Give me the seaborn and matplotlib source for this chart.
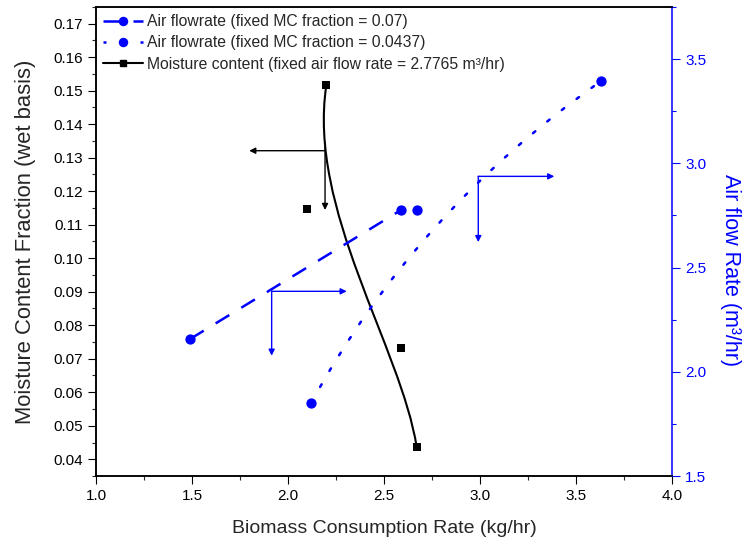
import numpy as np
import matplotlib
matplotlib.use('Agg')
import matplotlib.pyplot as plt
from matplotlib.path import Path
from matplotlib.patches import PathPatch
from matplotlib.lines import Line2D
from matplotlib.ticker import MultipleLocator, FormatStrFormatter
import seaborn as sns

sns.set_style('ticks')
plt.rcParams['font.family'] = ['Liberation Sans', 'DejaVu Sans']

BLUE = '#0000FF'

# moisture content at fixed air flow rate = 2.7765 m3/hr (B-spline control points)
mc_rate = [2.20, 2.10, 2.59, 2.67]
mc_frac = [0.1517, 0.1147, 0.0732, 0.0437]

# air flow rate at fixed MC fraction = 0.07
af07_rate = [1.49, 2.59]
af07_flow = [2.157, 2.7765]

# air flow rate at fixed MC fraction = 0.0437 (B-spline control points)
af0437_rate = [2.12, 2.67, 3.63]
af0437_flow = [1.85, 2.7765, 3.394]

legend_labels = ['Air flowrate (fixed MC fraction = 0.07)',
                 'Air flowrate (fixed MC fraction = 0.0437)',
                 'Moisture content (fixed air flow rate = 2.7765 m³/hr)']

fig = plt.figure(figsize=(7.48, 5.46), dpi=100)
ax = fig.add_axes([0.1283, 0.1282, 0.7701, 0.859])
ax2 = ax.twinx()

DASHED = (0, (6.4, 5.6))
DOTTED = (0, (1.2, 6.2))

# black B-spline curve + squares
codes4 = [Path.MOVETO, Path.CURVE4, Path.CURVE4, Path.CURVE4]
ax.add_patch(PathPatch(Path(np.column_stack([mc_rate, mc_frac]), codes4),
                       fill=False, ec='black', lw=1.5, zorder=3))
sns.scatterplot(x=mc_rate, y=mc_frac, marker='s', s=36, color='black',
                edgecolor='black', linewidth=0, ax=ax, zorder=4, legend=False)

# dashed blue line
sns.lineplot(x=af07_rate, y=af07_flow, ax=ax2, color=BLUE, lw=1.8,
             linestyle=DASHED, zorder=3, legend=False)
sns.scatterplot(x=af07_rate, y=af07_flow, marker='o', s=55, color=BLUE,
                edgecolor=BLUE, linewidth=0, ax=ax2, zorder=4, legend=False)

# dotted blue B-spline
codes3 = [Path.MOVETO, Path.CURVE3, Path.CURVE3]
ax2.add_patch(PathPatch(Path(np.column_stack([af0437_rate, af0437_flow]), codes3),
                        fill=False, ec=BLUE, lw=1.8, linestyle=DOTTED,
                        capstyle='round', zorder=3))
sns.scatterplot(x=af0437_rate, y=af0437_flow, marker='o', s=55, color=BLUE,
                edgecolor=BLUE, linewidth=0, ax=ax2, zorder=4, legend=False)

# axes
ax.set_xlim(1.0, 4.0)
ax.set_ylim(0.035, 0.175)
ax2.set_ylim(1.5, 3.75)
ax.xaxis.set_major_locator(MultipleLocator(0.5))
ax.xaxis.set_minor_locator(MultipleLocator(0.25))
ax.xaxis.set_major_formatter(FormatStrFormatter('%.1f'))
ax.set_yticks(np.arange(0.04, 0.1701, 0.01))
ax.yaxis.set_minor_locator(MultipleLocator(0.005))
ax.yaxis.set_major_formatter(FormatStrFormatter('%.2f'))
ax2.set_yticks(np.arange(1.5, 3.51, 0.5))
ax2.yaxis.set_minor_locator(MultipleLocator(0.25))
ax2.yaxis.set_major_formatter(FormatStrFormatter('%.1f'))

for a in (ax, ax2):
    for s in a.spines.values():
        s.set_linewidth(1.1)
        s.set_color('black')
ax2.spines['right'].set_color(BLUE)
ax.spines['right'].set_visible(False)

ax.tick_params(which='major', direction='out', length=6, width=0.8, labelsize=11,
               colors='black', top=False, right=False)
ax.tick_params(which='minor', direction='out', length=3, width=0.8,
               top=False, right=False)
ax2.tick_params(which='major', direction='out', length=6, width=0.8, labelsize=11,
                colors=BLUE)
ax2.tick_params(which='minor', direction='out', length=3, width=0.8, colors=BLUE)

ax.set_xlabel('Biomass Consumption Rate (kg/hr)', fontsize=14, labelpad=12)
ax.set_ylabel('Moisture Content Fraction (wet basis)', fontsize=15.8, labelpad=12)
ax2.set_ylabel('Air flow Rate (m³/hr)', fontsize=15.5, color=BLUE,
               rotation=-90, labelpad=28)
ax2.yaxis.set_label_coords(1.12, 0.44)

# direction arrows
def corner_arrow(a, x0, y0, xh, yv, color, ystart=None):
    kw = dict(arrowstyle='-|>', color=color, lw=1.0, mutation_scale=9,
              shrinkA=0, shrinkB=0)
    a.annotate('', xy=(xh, y0), xytext=(x0, y0), arrowprops=kw)
    a.annotate('', xy=(x0, yv), xytext=(x0, y0 if ystart is None else ystart),
               arrowprops=kw)

corner_arrow(ax, 2.193, 0.1321, 1.798, 0.1144, 'black', ystart=0.1333)
corner_arrow(ax2, 1.915, 2.386, 2.306, 2.077, BLUE)
corner_arrow(ax2, 2.991, 2.9375, 3.387, 2.622, BLUE)

handles = [
    Line2D([], [], color=BLUE, lw=1.8, linestyle=DASHED, marker='o', ms=5.8),
    Line2D([], [], color=BLUE, lw=1.8, linestyle=DOTTED, marker='o', ms=5.8),
    Line2D([], [], color='black', lw=1.5, marker='s', ms=5),
]
ax2.legend(handles, legend_labels, loc='upper left', bbox_to_anchor=(0, 1),
           frameon=False, fontsize=11.3, handlelength=2.55, handletextpad=0.25,
           labelspacing=0.4, borderpad=0.45, borderaxespad=0, numpoints=1)

fig.savefig('out.png', dpi=100)
